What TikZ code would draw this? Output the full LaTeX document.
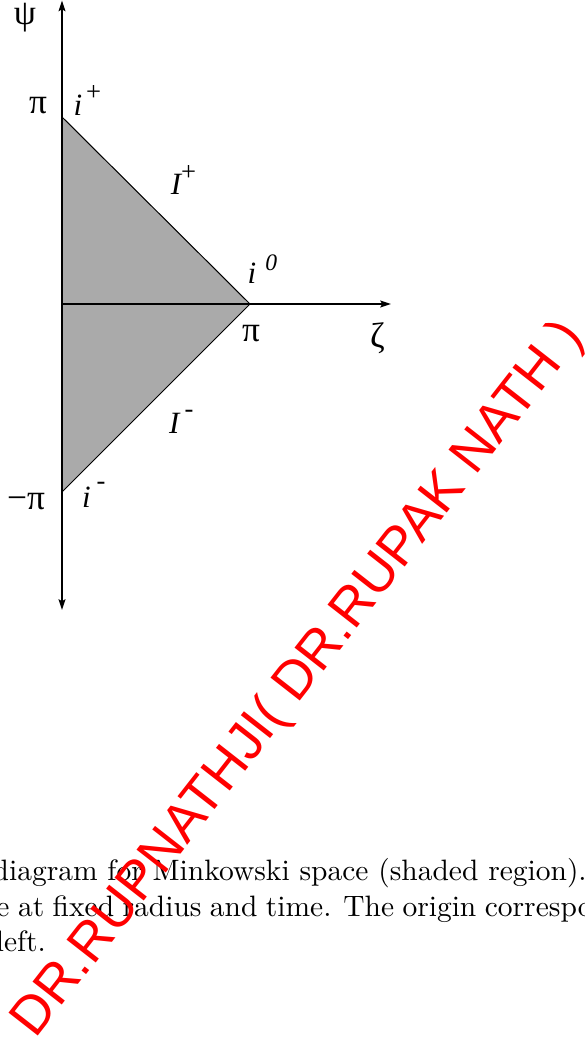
\documentclass[tikz,border=0pt]{standalone}
\usepackage{fontspec}
\newfontfamily\tms{Liberation Serif}
\newfontfamily\wmfont{Liberation Sans}
\usetikzlibrary{arrows.meta}
\definecolor{shadegray}{RGB}{170,170,170}
\definecolor{wmred}{RGB}{255,0,0}
\begin{document}
\begin{tikzpicture}[x=0.339pt,y=-0.339pt,
  lbl/.style={inner sep=0pt, font=\tms\fontsize{12}{14}\selectfont},
  lbli/.style={inner sep=0pt, font=\tms\itshape\fontsize{10.5}{12}\selectfont},
  supr/.style={inner sep=0pt, font=\tms\fontsize{9}{10}\selectfont},
  supri/.style={inner sep=0pt, font=\tms\itshape\fontsize{8}{9}\selectfont},
  tip/.tip={Stealth[length=3.6pt,width=2.3pt,inset=0.6pt]},
  axisline/.style={line width=0.6pt},
  nullline/.style={line width=0.35pt},
  captext/.style={inner sep=0pt, anchor=base west, font=\fontsize{10}{12}\selectfont},
  wm/.style={inner sep=0pt, text=wmred, font=\wmfont\fontsize{18.3}{20}\selectfont}]
\useasboundingbox (0,0) rectangle (584,1038);
\clip (0,0) rectangle (584,1038);
% key points
\coordinate (top) at (62,0.5);
\coordinate (bot) at (62,610);
\coordinate (O) at (62,304);
\coordinate (xend) at (391,304);
\coordinate (iplus) at (62,117);
\coordinate (izero) at (250,304);
\coordinate (iminus) at (62,492);
% shaded region
\fill[shadegray] (iplus) -- (izero) -- (iminus) -- cycle;
\draw[nullline] (iplus) -- (izero) -- (iminus);
% axes
\draw[axisline, tip-tip] (bot) -- (top);
\draw[axisline, -tip] (O) -- (xend);
% labels
\node[lbl] (psi) at (25,17.5) {ψ};
\node[lbl] (pitop) at (38,105.5) {π};
\node[lbli] (ip) at (78,105) {i};
\node[supr] (ipsup) at (93.5,93.5) {+};
\node[lbli] (Ip) at (176,184) {I};
\node[supr] (Ipsup) at (188.5,173) {+};
\node[lbli] (i0) at (252,273.7) {i};
\node[supri] (i0sup) at (271.3,262.8) {0};
\node[lbl] (pibot) at (251,333.5) {π};
\node[lbl] (zeta) at (377.5,338.5) {ζ};
\node[lbli] (Im) at (174.2,423.3) {I};
\node[supr] (Imsup) at (189,414) {-};
\node[lbl] (mpi) at (26,501.5) {−π};
\node[lbli] (im) at (86.5,497.5) {i};
\node[supr] (imsup) at (101,486) {-};
% caption (clipped page)
\node[captext] (cap1) at (-7.9,880.7) {diagram for Minkowski space (shaded region).};
\node[captext] (cap2) at (-4.1,916.7) {\spaceskip=2.86pt \xspaceskip=4.0pt e at fixed radius and time. The origin correspo};
\node[captext] (cap3) at (-4.7,951.7) {left.};
% watermark
\node[wm, rotate=52] (wmark) at (299,680) {DR.RUPNATHJI( DR.RUPAK NATH )};
\end{tikzpicture}
\end{document}
